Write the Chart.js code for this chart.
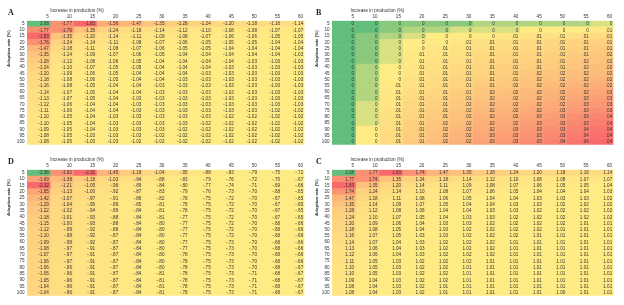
<!DOCTYPE html>
<html>
<head>
<meta charset="utf-8">
<script src="https://cdn.jsdelivr.net/npm/chart.js@4.4.0/dist/chart.umd.min.js"></script>
<style>
  body { margin: 0; background: #fff; width: 624px; height: 305px; position: relative; overflow: hidden; }
  canvas { position: absolute; }
</style>
</head>
<body>
<canvas id="panelA" width="310" height="150" style="left:0;top:0"></canvas>
<canvas id="panelB" width="319" height="150" style="left:305px;top:0"></canvas>
<canvas id="panelD" width="310" height="152" style="left:0;top:149px"></canvas>
<canvas id="panelC" width="319" height="152" style="left:305px;top:149px"></canvas>
<script>
const colLabels = ['5', '10', '15', '20', '25', '30', '35', '40', '45', '50', '55', '60'];
const rowLabels = ['5', '10', '15', '20', '25', '30', '35', '40', '45', '50', '55', '60', '65', '70', '75', '80', '85', '90', '95', '100'];

const valuesA = [
  [2.08, -1.77, -1.83, -1.56, -1.47, -1.35, -1.28, -1.24, -1.20, -1.18, -1.16, -1.14],
  [-1.77, -1.76, -1.35, -1.24, -1.18, -1.14, -1.12, -1.10, -1.08, -1.08, -1.07, -1.07],
  [-1.83, -1.35, -1.20, -1.14, -1.11, -1.09, -1.08, -1.07, -1.06, -1.06, -1.05, -1.05],
  [-1.76, -1.24, -1.14, -1.11, -1.08, -1.07, -1.06, -1.05, -1.05, -1.05, -1.04, -1.04],
  [-1.47, -1.18, -1.11, -1.08, -1.07, -1.06, -1.05, -1.05, -1.04, -1.04, -1.04, -1.04],
  [-1.35, -1.14, -1.09, -1.07, -1.06, -1.05, -1.04, -1.04, -1.04, -1.04, -1.04, -1.03],
  [-1.28, -1.12, -1.08, -1.06, -1.05, -1.04, -1.04, -1.04, -1.04, -1.03, -1.03, -1.03],
  [-1.24, -1.10, -1.07, -1.05, -1.05, -1.04, -1.04, -1.04, -1.03, -1.03, -1.03, -1.03],
  [-1.20, -1.09, -1.06, -1.05, -1.04, -1.04, -1.04, -1.03, -1.03, -1.03, -1.03, -1.03],
  [-1.18, -1.08, -1.06, -1.05, -1.04, -1.04, -1.03, -1.03, -1.03, -1.03, -1.03, -1.03],
  [-1.16, -1.08, -1.05, -1.04, -1.04, -1.03, -1.03, -1.03, -1.03, -1.03, -1.03, -1.03],
  [-1.14, -1.07, -1.05, -1.04, -1.04, -1.03, -1.03, -1.03, -1.03, -1.03, -1.03, -1.03],
  [-1.13, -1.07, -1.05, -1.04, -1.03, -1.03, -1.03, -1.03, -1.03, -1.03, -1.03, -1.03],
  [-1.12, -1.06, -1.04, -1.04, -1.03, -1.03, -1.03, -1.03, -1.03, -1.03, -1.03, -1.03],
  [-1.11, -1.06, -1.04, -1.04, -1.03, -1.03, -1.03, -1.03, -1.03, -1.03, -1.02, -1.02],
  [-1.10, -1.05, -1.04, -1.03, -1.03, -1.03, -1.03, -1.03, -1.02, -1.02, -1.02, -1.02],
  [-1.10, -1.05, -1.04, -1.03, -1.03, -1.03, -1.03, -1.02, -1.02, -1.02, -1.02, -1.02],
  [-1.09, -1.05, -1.04, -1.03, -1.03, -1.03, -1.02, -1.02, -1.02, -1.02, -1.02, -1.02],
  [-1.08, -1.05, -1.03, -1.03, -1.03, -1.02, -1.02, -1.02, -1.02, -1.02, -1.02, -1.02],
  [-1.08, -1.05, -1.03, -1.03, -1.02, -1.02, -1.02, -1.02, -1.02, -1.02, -1.02, -1.02]
];

const valuesB = [
  [0, 0, 0.001, 0.001, 0.001, 0.001, 0.002, 0.002, 0.002, 0.002, 0.002, 0.003],
  [0, 0, 0.001, 0.002, 0.002, 0.003, 0.003, 0.003, 0.004, 0.004, 0.004, 0.005],
  [0, 0.001, 0.002, 0.003, 0.004, 0.004, 0.004, 0.006, 0.007, 0.007, 0.008, 0.009],
  [0, 0.001, 0.003, 0.004, 0.004, 0.006, 0.007, 0.008, 0.009, 0.010, 0.011, 0.012],
  [0, 0.001, 0.003, 0.004, 0.006, 0.007, 0.008, 0.009, 0.010, 0.011, 0.012, 0.014],
  [0, 0.001, 0.003, 0.005, 0.006, 0.007, 0.009, 0.010, 0.011, 0.012, 0.014, 0.015],
  [0, 0.001, 0.003, 0.005, 0.007, 0.008, 0.010, 0.011, 0.012, 0.013, 0.015, 0.016],
  [0, 0.002, 0.004, 0.006, 0.007, 0.009, 0.010, 0.012, 0.013, 0.014, 0.016, 0.018],
  [0, 0.002, 0.004, 0.006, 0.008, 0.010, 0.011, 0.013, 0.015, 0.016, 0.018, 0.019],
  [0, 0.002, 0.004, 0.007, 0.009, 0.011, 0.012, 0.014, 0.016, 0.017, 0.019, 0.021],
  [0, 0.002, 0.005, 0.007, 0.009, 0.011, 0.014, 0.015, 0.017, 0.019, 0.021, 0.023],
  [0, 0.002, 0.005, 0.008, 0.010, 0.013, 0.015, 0.017, 0.019, 0.021, 0.023, 0.025],
  [0, 0.002, 0.006, 0.009, 0.011, 0.014, 0.016, 0.018, 0.020, 0.022, 0.025, 0.027],
  [0, 0.003, 0.006, 0.010, 0.012, 0.015, 0.018, 0.020, 0.022, 0.024, 0.027, 0.030],
  [0, 0.003, 0.007, 0.010, 0.013, 0.016, 0.019, 0.021, 0.024, 0.026, 0.029, 0.032],
  [0, 0.003, 0.007, 0.011, 0.014, 0.017, 0.021, 0.023, 0.026, 0.028, 0.032, 0.035],
  [0, 0.003, 0.008, 0.012, 0.015, 0.018, 0.022, 0.024, 0.028, 0.030, 0.034, 0.037],
  [0, 0.004, 0.008, 0.013, 0.016, 0.020, 0.023, 0.026, 0.030, 0.032, 0.036, 0.040],
  [0, 0.004, 0.009, 0.013, 0.017, 0.021, 0.025, 0.028, 0.031, 0.034, 0.038, 0.042],
  [0, 0.004, 0.009, 0.014, 0.018, 0.022, 0.026, 0.029, 0.033, 0.036, 0.040, 0.044]
];

const valuesC = [
  [2.08, 1.77, 1.83, 1.74, 1.47, 1.35, 1.28, 1.24, 1.20, 1.18, 1.16, 1.14],
  [1.77, 1.74, 1.35, 1.24, 1.18, 1.14, 1.12, 1.10, 1.08, 1.08, 1.07, 1.07],
  [1.83, 1.35, 1.20, 1.14, 1.11, 1.09, 1.08, 1.07, 1.06, 1.05, 1.05, 1.04],
  [1.74, 1.24, 1.14, 1.10, 1.08, 1.07, 1.06, 1.05, 1.04, 1.04, 1.04, 1.03],
  [1.47, 1.18, 1.11, 1.08, 1.06, 1.05, 1.04, 1.04, 1.03, 1.03, 1.03, 1.02],
  [1.35, 1.14, 1.09, 1.07, 1.05, 1.04, 1.04, 1.03, 1.03, 1.02, 1.02, 1.02],
  [1.28, 1.12, 1.08, 1.06, 1.04, 1.04, 1.03, 1.03, 1.02, 1.02, 1.02, 1.02],
  [1.24, 1.10, 1.07, 1.05, 1.04, 1.03, 1.03, 1.02, 1.02, 1.02, 1.02, 1.02],
  [1.20, 1.09, 1.06, 1.04, 1.03, 1.03, 1.02, 1.02, 1.02, 1.02, 1.01, 1.01],
  [1.18, 1.08, 1.05, 1.04, 1.03, 1.02, 1.02, 1.02, 1.02, 1.01, 1.01, 1.01],
  [1.16, 1.07, 1.05, 1.03, 1.03, 1.02, 1.02, 1.02, 1.01, 1.01, 1.01, 1.01],
  [1.14, 1.07, 1.04, 1.03, 1.02, 1.02, 1.02, 1.01, 1.01, 1.01, 1.01, 1.01],
  [1.13, 1.06, 1.04, 1.03, 1.02, 1.02, 1.02, 1.01, 1.01, 1.01, 1.01, 1.01],
  [1.12, 1.06, 1.04, 1.03, 1.02, 1.02, 1.02, 1.01, 1.01, 1.01, 1.01, 1.01],
  [1.11, 1.05, 1.03, 1.02, 1.02, 1.02, 1.01, 1.01, 1.01, 1.01, 1.01, 1.01],
  [1.10, 1.05, 1.03, 1.02, 1.02, 1.01, 1.01, 1.01, 1.01, 1.01, 1.01, 1.01],
  [1.10, 1.05, 1.03, 1.02, 1.02, 1.01, 1.01, 1.01, 1.01, 1.01, 1.01, 1.01],
  [1.09, 1.04, 1.03, 1.02, 1.02, 1.01, 1.01, 1.01, 1.01, 1.01, 1.01, 1.01],
  [1.08, 1.04, 1.03, 1.02, 1.01, 1.01, 1.01, 1.01, 1.01, 1.01, 1.01, 1.01],
  [1.08, 1.04, 1.03, 1.02, 1.01, 1.01, 1.01, 1.01, 1.01, 1.00, 1.01, 1.01]
];

const valuesD = [
  [-2.38, -1.92, -2.31, -1.45, -1.18, -1.04, -0.95, -0.88, -0.83, -0.79, -0.75, -0.72],
  [-1.69, -1.38, -1.18, -1.03, -0.94, -0.88, -0.83, -0.79, -0.76, -0.72, -0.70, -0.67],
  [-2.32, -1.21, -1.05, -0.96, -0.89, -0.84, -0.80, -0.77, -0.74, -0.71, -0.69, -0.66],
  [-1.65, -1.13, -1.00, -0.92, -0.87, -0.83, -0.79, -0.76, -0.73, -0.70, -0.68, -0.65],
  [-1.42, -1.07, -0.97, -0.91, -0.86, -0.82, -0.78, -0.75, -0.72, -0.70, -0.67, -0.65],
  [-1.29, -1.04, -0.95, -0.89, -0.85, -0.81, -0.78, -0.75, -0.72, -0.70, -0.67, -0.65],
  [-1.22, -1.02, -0.94, -0.89, -0.84, -0.81, -0.78, -0.75, -0.72, -0.70, -0.67, -0.65],
  [-1.18, -1.01, -0.93, -0.88, -0.84, -0.81, -0.77, -0.75, -0.72, -0.70, -0.67, -0.65],
  [-1.15, -1.00, -0.93, -0.88, -0.84, -0.80, -0.77, -0.75, -0.72, -0.70, -0.68, -0.66],
  [-1.12, -0.99, -0.92, -0.88, -0.84, -0.80, -0.77, -0.75, -0.72, -0.70, -0.68, -0.66],
  [-1.10, -0.98, -0.92, -0.87, -0.84, -0.80, -0.77, -0.75, -0.72, -0.70, -0.68, -0.66],
  [-1.09, -0.98, -0.92, -0.87, -0.84, -0.80, -0.77, -0.75, -0.73, -0.70, -0.68, -0.66],
  [-1.08, -0.97, -0.91, -0.87, -0.84, -0.80, -0.77, -0.75, -0.73, -0.70, -0.68, -0.66],
  [-1.07, -0.97, -0.91, -0.87, -0.84, -0.80, -0.78, -0.75, -0.73, -0.70, -0.68, -0.66],
  [-1.06, -0.97, -0.91, -0.87, -0.84, -0.80, -0.78, -0.75, -0.73, -0.70, -0.68, -0.66],
  [-1.06, -0.96, -0.91, -0.87, -0.84, -0.80, -0.78, -0.75, -0.73, -0.70, -0.68, -0.67],
  [-1.05, -0.96, -0.91, -0.87, -0.84, -0.81, -0.78, -0.75, -0.73, -0.71, -0.68, -0.67],
  [-1.05, -0.96, -0.91, -0.87, -0.84, -0.81, -0.78, -0.75, -0.73, -0.71, -0.68, -0.67],
  [-1.04, -0.96, -0.91, -0.87, -0.84, -0.81, -0.78, -0.75, -0.73, -0.71, -0.68, -0.67],
  [-1.04, -0.96, -0.91, -0.87, -0.84, -0.81, -0.78, -0.75, -0.73, -0.71, -0.68, -0.67]
];

// excel style colour scale
const GREEN = [99, 190, 123];
const YELLOW = [255, 235, 132];
const RED = [248, 105, 107];

function mix(a, b, t) {
    t = Math.max(0, Math.min(1, t));
    const c = a.map((v, i) => Math.round(v + (b[i] - v) * t));
    return 'rgb(' + c.join(',') + ')';
}

function percentile(arr, p) {
    const s = arr.slice().sort((a, b) => a - b);
    const m = (s.length - 1) * p;
    const lo = Math.floor(m), hi = Math.ceil(m);
    return s[lo] + (s[hi] - s[lo]) * (m - lo);
}

// green -> yellow -> red, low to high (midpoint at 30th percentile)
function greenToRed(values) {
    const flat = values.flat();
    const lo = Math.min(...flat), hi = Math.max(...flat), mid = percentile(flat, 0.3);
    return v => v <= mid ? mix(GREEN, YELLOW, (v - lo) / (mid - lo || 1))
                         : mix(YELLOW, RED, (v - mid) / (hi - mid));
}

// ratio panels: largest magnitude green, next two red, rest yellow -> red by magnitude
function ratioScale(values) {
    const flat = values.flat().map(Math.abs);
    const sorted = flat.slice().sort((a, b) => b - a);
    const top = sorted[0], third = sorted[2], mid = percentile(flat, 0.5);
    return v => {
        const a = Math.abs(v);
        if (a === top) return mix(GREEN, GREEN, 0);
        if (a >= third) return mix(RED, RED, 0);
        return mix(YELLOW, RED, (a - mid) / (top - mid));
    };
}

function fmtRatio(v) {
    return v.toFixed(2).replace(/^(-?)0\./, '$1.');
}

function fmtSmall(v) {
    const r = Math.round(v * 100) / 100;
    if (r === 0) return '0';
    return r.toFixed(2).replace(/^(-?)0\./, '$1.');
}

const FONT = '"Liberation Sans", Arial, sans-serif';

const cellText = {
    id: 'cellText',
    afterDatasetsDraw(chart, args, opts) {
        const ctx = chart.ctx;
        ctx.save();
        ctx.font = '4.6px ' + FONT;
        ctx.fillStyle = '#333';
        ctx.textAlign = 'right';
        ctx.textBaseline = 'middle';
        chart.data.datasets.forEach((ds, c) => {
            chart.getDatasetMeta(c).data.forEach((bar, r) => {
                ctx.fillText(opts.format(opts.values[r][c]), bar.x - 1.3, bar.y + 0.3);
            });
        });
        ctx.restore();
    },
    afterDraw(chart, args, opts) {
        const ctx = chart.ctx;
        const area = chart.chartArea;
        const xs = chart.scales.x;
        ctx.save();
        ctx.fillStyle = '#222';
        ctx.font = 'bold 8px "Liberation Serif", serif';
        ctx.textBaseline = 'middle';
        ctx.fillText(opts.letter, opts.letterX, area.top - 7.5);

        ctx.font = '4.6px ' + FONT;
        ctx.fillStyle = '#333';
        ctx.textAlign = 'left';
        ctx.fillText('Increase in production (%)', xs.getPixelForValue(1) - opts.titleShift, area.top - 10);

        ctx.translate(opts.letterX + 0.5, area.top + 28);
        ctx.rotate(-Math.PI / 2);
        ctx.textAlign = 'center';
        ctx.font = 'bold 4.4px ' + FONT;
        ctx.fillText('Adoption rate (%)', 0, 0);
        ctx.restore();
    }
};

function makePanel(id, values, colorFn, format, letter, padRight, letterX, titleShift) {
    const datasets = colLabels.map((col, c) => ({
        label: col,
        data: rowLabels.map(() => [c, c + 1]),
        backgroundColor: ctx => colorFn(values[ctx.dataIndex][c]),
        borderWidth: 0,
        barPercentage: 1,
        categoryPercentage: 1,
        grouped: false
    }));

    return new Chart(document.getElementById(id), {
        type: 'bar',
        data: { labels: rowLabels, datasets: datasets },
        options: {
            indexAxis: 'y',
            responsive: false,
            animation: false,
            layout: { padding: { left: 0, right: padRight, top: 0, bottom: 4 } },
            plugins: {
                legend: { display: false },
                tooltip: { enabled: false },
                cellText: { values: values, format: format, letter: letter, letterX: letterX, titleShift: titleShift }
            },
            scales: {
                x: {
                    type: 'linear',
                    position: 'top',
                    min: 0,
                    max: colLabels.length,
                    grid: { display: false, drawTicks: false, tickLength: 0 },
                    border: { display: false },
                    afterBuildTicks: scale => {
                        scale.ticks = colLabels.map((l, i) => ({ value: i + 0.94 }));
                    },
                    afterFit: scale => { scale.height = 20.7; },
                    ticks: {
                        autoSkip: false,
                        maxRotation: 0,
                        align: 'end',
                        padding: 1,
                        color: '#333',
                        font: { size: 4.6, family: FONT },
                        callback: (v, i) => colLabels[i]
                    }
                },
                y: {
                    type: 'category',
                    grid: { display: false, drawTicks: false, tickLength: 0 },
                    border: { display: false },
                    afterFit: scale => { scale.width = 27; },
                    ticks: {
                        autoSkip: false,
                        padding: 2.5,
                        color: '#333',
                        font: { size: 4.6, family: FONT }
                    }
                }
            }
        },
        plugins: [cellText]
    });
}

makePanel('panelA', valuesA, ratioScale(valuesA), fmtRatio, 'A', 5.5, 8, 0);
makePanel('panelB', valuesB, greenToRed(valuesB), fmtSmall, 'B', 10.5, 11, 5);
makePanel('panelD', valuesD, ratioScale(valuesD), fmtRatio, 'D', 5.5, 8, 0);
makePanel('panelC', valuesC, ratioScale(valuesC), fmtRatio, 'C', 10.5, 11, 5);
</script>
</body>
</html>
